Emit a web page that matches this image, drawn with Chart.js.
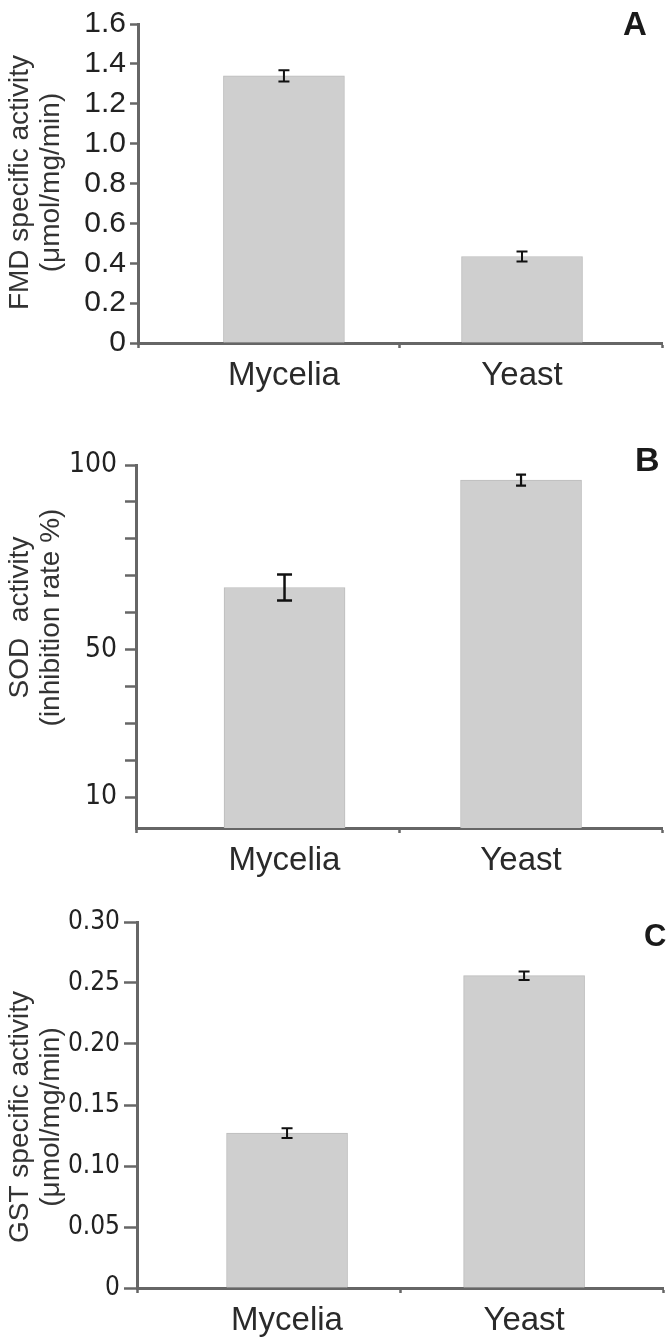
<!DOCTYPE html>
<html>
<head>
<meta charset="utf-8">
<script src="https://cdn.jsdelivr.net/npm/chart.js@4/dist/chart.umd.min.js"></script>
<style>
  body { margin: 0; background: #fff; width: 671px; height: 1337px; position: relative; overflow: hidden; }
  .panel { position: absolute; left: 0; width: 671px; }
  .panel canvas { position: absolute; left: 0; top: 0; }
  .tag { position: absolute; font-weight: bold; color: #1a1a1a; line-height: 1; }
</style>
</head>
<body>
<div class="panel" style="top:0;height:420px">
  <canvas id="chartA" width="671" height="420"></canvas>
  <div class="tag" style="left:623px;top:5px;font:bold 33px 'Liberation Sans', Arial, sans-serif">A</div>
</div>
<div class="panel" style="top:420px;height:460px">
  <canvas id="chartB" width="671" height="460"></canvas>
  <div class="tag" style="left:635px;top:20px;font:bold 34px 'Liberation Sans', Arial, sans-serif">B</div>
</div>
<div class="panel" style="top:880px;height:457px">
  <canvas id="chartC" width="671" height="457"></canvas>
  <div class="tag" style="left:644px;top:38px;font:bold 31px 'Liberation Sans', Arial, sans-serif">C</div>
</div>
<script>
// Data

const categories = ["Mycelia", "Yeast"];
const barPos = [0, 1];

const fmdValues = [1.34, 0.434];
const fmdErrors = [0.028, 0.025];
const fmdTicks = [0, 0.2, 0.4, 0.6, 0.8, 1.0, 1.2, 1.4, 1.6];

const sodValues = [66.8, 95.9];
const sodErrors = [3.5, 1.5];
const sodTicks = [10, 20, 30, 40, 50, 60, 70, 80, 90, 100];
const sodTickLabels = [10, 50, 100];

const gstValues = [0.127, 0.256];
const gstErrors = [0.004, 0.0035];
const gstTicks = [0, 0.05, 0.1, 0.15, 0.2, 0.25, 0.3];

// Shared look

const axisColor = "#666666";
const textColor = "#222222";
const wideFont = "'Liberation Sans', Arial, sans-serif";
const narrowFont = "'Liberation Sans Narrow', 'DejaVu Sans Condensed', sans-serif";

function drawPanel(canvasId, cfg) {
  let errorBars = {
    id: "errorBars",
    afterDatasetsDraw(chart) {
      const ctx = chart.ctx;
      const xs = chart.scales.x;
      const ys = chart.scales.y;
      ctx.save();
      ctx.strokeStyle = "#111";
      cfg.values.forEach((v, i) => {
        const x = xs.getPixelForValue(barPos[i]);
        const top = ys.getPixelForValue(v + cfg.errors[i]);
        const bot = ys.getPixelForValue(v - cfg.errors[i]);
        const c = cfg.capWidth[i] / 2;
        ctx.lineWidth = cfg.errWidth[i];
        ctx.beginPath();
        ctx.moveTo(x, top);
        ctx.lineTo(x, bot);
        ctx.moveTo(x - c, top);
        ctx.lineTo(x + c, top);
        ctx.moveTo(x - c, bot);
        ctx.lineTo(x + c, bot);
        ctx.stroke();
      });
      ctx.restore();
    },
  };

  // y axis title, two rotated lines (not always centred on the axis in the original)
  let yTitle = {
    id: "yTitle",
    afterDraw(chart) {
      const ctx = chart.ctx;
      const ys = chart.scales.y;
      const cy = (ys.top + ys.bottom) / 2 + cfg.titleShift;
      ctx.save();
      ctx.translate(20, cy);
      ctx.rotate(-Math.PI / 2);
      ctx.fillStyle = "#333";
      ctx.font = "28px " + wideFont;
      ctx.textAlign = "center";
      ctx.textBaseline = "middle";
      cfg.title.forEach((line, k) => ctx.fillText(line, 0, k * 31));
      ctx.restore();
    },
  };

  const xEdges = [cfg.xMin, cfg.xMid, cfg.xMax];

  new Chart(document.getElementById(canvasId), {
    type: "bar",
    data: {
      datasets: [
        {
          data: cfg.values.map((v, i) => ({ x: barPos[i], y: v })),
          backgroundColor: "#cfcfcf",
          borderColor: "#bcbcbc",
          borderWidth: 1,
          barThickness: 121,
        },
      ],
    },
    options: {
      responsive: false,
      animation: false,
      events: [],
      layout: { padding: { top: cfg.padTop, right: cfg.padRight, left: 0, bottom: 0 } },
      plugins: { legend: { display: false }, tooltip: { enabled: false } },
      scales: {
        x: {
          type: "linear",
          min: cfg.xMin,
          max: cfg.xMax,
          offset: false,
          grid: {
            offset: false,
            drawOnChartArea: false,
            drawTicks: true,
            tickLength: 5,
            tickWidth: 2.5,
            tickColor: (c) => (xEdges.includes(c.tick.value) ? axisColor : "rgba(0,0,0,0)"),
          },
          border: { color: axisColor, width: 3 },
          afterBuildTicks: (s) => {
            s.ticks = [cfg.xMin, barPos[0], cfg.xMid, barPos[1], cfg.xMax].map((v) => ({ value: v }));
          },
          ticks: {
            autoSkip: false,
            maxRotation: 0,
            padding: 8,
            color: "#2a2a2a",
            font: { family: wideFont, size: 33 },
            callback: (v) => {
              const i = barPos.indexOf(v);
              return i >= 0 ? categories[i] : "";
            },
          },
          afterFit: (s) => {
            s.height = cfg.xHeight;
          },
        },
        y: {
          min: cfg.yMin,
          max: cfg.yMax,
          grid: {
            drawOnChartArea: false,
            drawTicks: true,
            tickLength: cfg.tickLength,
            tickWidth: 2.5,
            tickColor: axisColor,
          },
          border: { color: axisColor, width: 3 },
          afterBuildTicks: (s) => {
            s.ticks = cfg.yTicks.map((v) => ({ value: v }));
          },
          ticks: {
            padding: cfg.tickPad,
            color: textColor,
            font: { family: cfg.tickFont, size: cfg.tickSize },
            callback: cfg.yLabel,
          },
          afterFit: (s) => {
            s.width = cfg.yWidth;
          },
        },
      },
    },
    plugins: [errorBars, yTitle],
  });
}

drawPanel("chartA", {
  values: fmdValues,
  errors: fmdErrors,
  capWidth: [11, 11],
  errWidth: [2, 2],
  xMin: -0.613,
  xMid: 0.487,
  xMax: 1.588,
  yMin: 0,
  yMax: 1.6,
  yTicks: fmdTicks,
  yLabel: (v) => (v === 0 ? "0" : v.toFixed(1)),
  tickFont: wideFont,
  tickSize: 30,
  tickLength: 8,
  tickPad: 4,
  title: ["FMD specific activity", "(\u03bcmol/mg/min)"],
  titleShift: -1,
  padTop: 24,
  padRight: 9,
  xHeight: 77,
  yWidth: 138,
});

drawPanel("chartB", {
  values: sodValues,
  errors: sodErrors,
  capWidth: [15, 10],
  errWidth: [2.5, 2.2],
  xMin: -0.628,
  xMid: 0.484,
  xMax: 1.596,
  yMin: 1.6,
  yMax: 100,
  yTicks: sodTicks,
  yLabel: (v) => (sodTickLabels.includes(v) ? String(v) : ""),
  tickFont: narrowFont,
  tickSize: 28,
  tickLength: 11,
  tickPad: 8,
  title: ["SOD  activity", "(inhibition rate %)"],
  titleShift: -29,
  padTop: 45,
  padRight: 9,
  xHeight: 52,
  yWidth: 136,
});

drawPanel("chartC", {
  values: gstValues,
  errors: gstErrors,
  capWidth: [11, 11],
  errWidth: [2, 2],
  xMin: -0.633,
  xMid: 0.477,
  xMax: 1.586,
  yMin: 0,
  yMax: 0.3,
  yTicks: gstTicks,
  yLabel: (v) => (v === 0 ? "0" : v.toFixed(2)),
  tickFont: narrowFont,
  tickSize: 26,
  tickLength: 13,
  tickPad: 4,
  title: ["GST specific activity", "(\u03bcmol/mg/min)"],
  titleShift: 12,
  padTop: 42,
  padRight: 8,
  xHeight: 49,
  yWidth: 137,
});
</script>
</body>
</html>
